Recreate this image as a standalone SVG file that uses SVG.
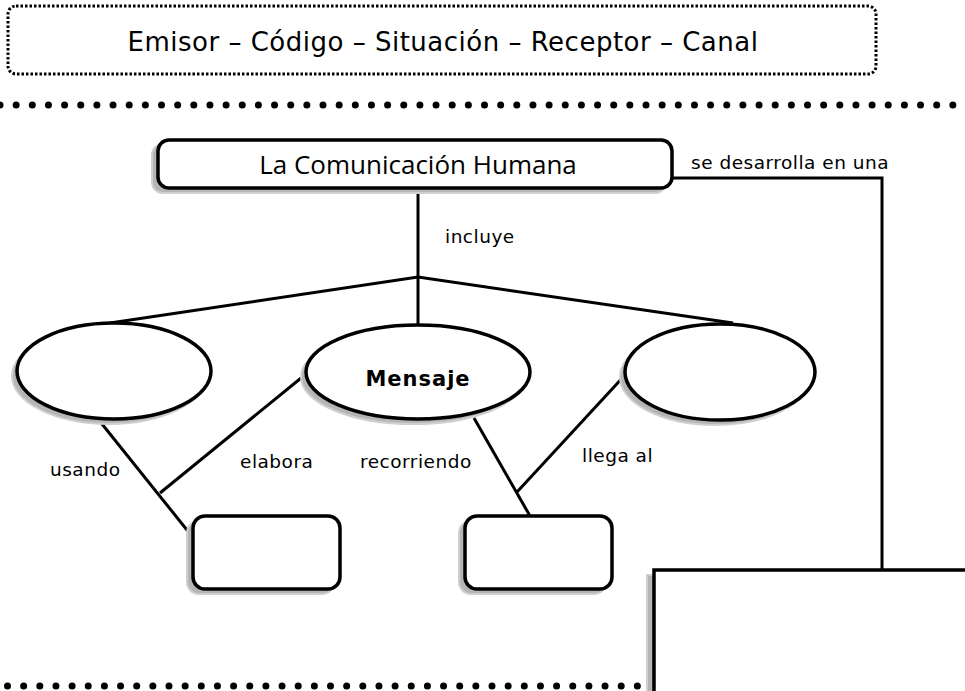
<svg xmlns="http://www.w3.org/2000/svg" width="965" height="691" viewBox="0 0 965 691">
<style>
.t{font-family:"DejaVu Sans","Liberation Sans",sans-serif;fill:#000}
.lbl{font-size:18.5px;letter-spacing:0.5px}
.node{fill:#fff;stroke:#000;stroke-width:3.5}
.sh{fill:#b5b5b5;stroke:#cfcfcf;stroke-width:2}
.conn{fill:none;stroke:#000;stroke-width:3}
.dots{fill:none;stroke:#000;stroke-width:7;stroke-linecap:round;stroke-dasharray:0 16.15}
</style>
<rect width="965" height="691" fill="#fff"/>
<g id="header">
<rect x="8" y="6" width="868" height="68" rx="8" fill="#fff" stroke="#000" stroke-width="3" stroke-dasharray="2.5 2"/>
<text class="t" x="443" y="51" font-size="26" letter-spacing="0.5" text-anchor="middle">Emisor – Código – Situación – Receptor – Canal</text>
</g>
<path class="dots" d="M0 105 H965"/>
<path class="dots" d="M7.5 686 H650"/>
<g id="connectors">
<path class="conn" d="M672 178 H882 V570"/>
<path class="conn" d="M418 188 V325"/>
<path class="conn" d="M110 323 L418 277 L733 323"/>
<path class="conn" d="M98 419 L195 540"/>
<path class="conn" d="M160 493 L306 374"/>
<path class="conn" d="M474 418 L530 516"/>
<path class="conn" d="M517 492 L626 374"/>
</g>
<g id="labels">
<text class="t lbl" x="691" y="169">se desarrolla en una</text>
<text class="t lbl" x="445" y="243">incluye</text>
<text class="t lbl" x="50" y="476">usando</text>
<text class="t lbl" x="240" y="468">elabora</text>
<text class="t lbl" x="360" y="468">recorriendo</text>
<text class="t lbl" x="582" y="462">llega al</text>
</g>
<g id="n-comunicacion">
<rect class="sh" x="152" y="144" width="514" height="49" rx="11"/>
<rect class="node" x="158" y="140" width="514" height="48" rx="11"/>
<text x="418" y="174" font-family="'Open Sans','Noto Sans',sans-serif" font-size="26" text-anchor="middle">La Comunicación Humana</text>
</g>
<g id="n-ellipse-left">
<ellipse class="sh" cx="109" cy="376" rx="97" ry="48"/>
<ellipse class="node" cx="114" cy="371" rx="97" ry="48"/>
</g>
<g id="n-mensaje">
<ellipse class="sh" cx="413" cy="377" rx="112" ry="47"/>
<ellipse class="node" cx="418" cy="372" rx="112" ry="47"/>
<text class="t" x="418" y="386" font-size="21" font-weight="bold" letter-spacing="1" text-anchor="middle">Mensaje</text>
</g>
<g id="n-ellipse-right">
<ellipse class="sh" cx="715" cy="377" rx="95" ry="48"/>
<ellipse class="node" cx="720" cy="372" rx="95" ry="48"/>
</g>
<g id="n-box-left">
<rect class="sh" x="187" y="521" width="147" height="73" rx="12"/>
<rect class="node" x="193" y="516" width="147" height="73" rx="12"/>
</g>
<g id="n-box-mid">
<rect class="sh" x="459" y="521" width="147" height="73" rx="12"/>
<rect class="node" x="465" y="516" width="147" height="73" rx="12"/>
</g>
<g id="n-box-big">
<rect class="sh" x="647" y="575" width="330" height="130"/>
<rect class="node" x="654" y="570" width="330" height="130"/>
</g>
</svg>
